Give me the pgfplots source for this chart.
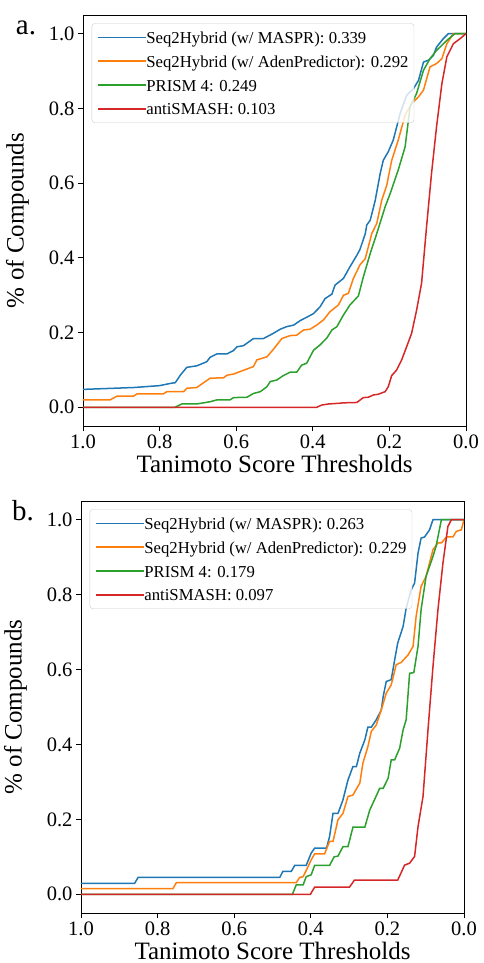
\documentclass[border=0pt]{standalone}
\usepackage{fontspec}
\setmainfont{Liberation Serif}
\usepackage{pgfplots}
\pgfplotsset{compat=1.18}
\definecolor{cblue}{HTML}{1F77B4}
\definecolor{corange}{HTML}{FF7F0E}
\definecolor{cgreen}{HTML}{2CA02C}
\definecolor{cred}{HTML}{D62728}
\pgfplotsset{
  myax/.style={
    scale only axis, width=383pt,
    xmin=0, xmax=1, x dir=reverse,
    ymin=-0.05, ymax=1.05,
    xtick={0,0.2,0.4,0.6,0.8,1}, ytick={0,0.2,0.4,0.6,0.8,1},
    tick pos=left, tick align=outside, major tick length=5pt,
    axis line style={line width=0.9pt},
    every tick/.style={black, line width=0.9pt},
    tick label style={font=\fontsize{20.5}{24}\selectfont},
    label style={font=\fontsize{25}{30}\selectfont},
    xlabel={Tanimoto Score Thresholds},
    ylabel={\% of Compounds},
    xlabel style={at={(axis description cs:0.5,-0.113)}, anchor=base, text depth=0pt},
    ylabel style={at={(axis description cs:-0.155,0.5)}, anchor=base},
    every axis plot/.append style={line width=1.5pt},
    legend cell align=left,
    legend image code/.code={\path (0pt,0pt) -- (47.5pt,0pt); \draw[##1, line width=1.6pt] (0pt,0pt) -- (35pt,0pt);},
    legend style={at={(rel axis cs:0,1)}, anchor=north west, xshift=8.7pt, yshift=-8.3pt,
      font=\fontsize{16.7}{20}\selectfont,
      draw=black!20, rounded corners=3pt, fill=white, fill opacity=0.8, text opacity=1, draw opacity=1,
      inner xsep=5.5pt, inner ysep=2pt, row sep=0pt,
      nodes={inner xsep=0pt, inner ysep=2.9pt, text height=15pt, text depth=3pt}},
    /pgf/number format/.cd, fixed, fixed zerofill, precision=1, assume math mode=true,
  }
}
\begin{document}
\begin{tikzpicture}
\path[use as bounding box] (0pt,0pt) rectangle (483pt,-963pt);
\node[anchor=base west, inner sep=0pt, font=\fontsize{29}{34}\selectfont] at (15.7pt,-35pt) {a.};
\node[anchor=base west, inner sep=0pt, font=\fontsize{29}{34}\selectfont] at (12pt,-520.7pt) {b.};
\begin{axis}[myax, at={(83pt,-426pt)}, anchor=south west, height=411pt]
\addplot[cblue] coordinates {(1,0.048)(0.92,0.051)(0.868,0.053)(0.80,0.058)(0.772,0.064)(0.759,0.066)(0.746,0.086)(0.729,0.107)(0.703,0.111)(0.677,0.122)(0.668,0.134)(0.65,0.143)(0.624,0.143)(0.607,0.152)(0.598,0.162)(0.581,0.165)(0.555,0.184)(0.529,0.184)(0.503,0.198)(0.485,0.209)(0.468,0.216)(0.45,0.22)(0.433,0.232)(0.416,0.241)(0.398,0.251)(0.381,0.269)(0.368,0.291)(0.35,0.303)(0.342,0.327)(0.32,0.345)(0.303,0.376)(0.285,0.407)(0.277,0.422)(0.263,0.465)(0.259,0.488)(0.25,0.501)(0.237,0.554)(0.224,0.626)(0.216,0.661)(0.203,0.684)(0.19,0.715)(0.172,0.786)(0.155,0.835)(0.137,0.853)(0.124,0.875)(0.111,0.924)(0.098,0.929)(0.085,0.942)(0.077,0.964)(0.059,0.987)(0.046,1.0)(0,1.0)};
\addlegendentry{Seq2Hybrid (w/ MASPR): 0.339}
\addplot[corange] coordinates {(1,0.02)(0.929,0.02)(0.911,0.03)(0.868,0.03)(0.859,0.036)(0.79,0.036)(0.781,0.042)(0.737,0.042)(0.729,0.051)(0.703,0.053)(0.685,0.066)(0.668,0.078)(0.633,0.079)(0.624,0.086)(0.607,0.089)(0.555,0.109)(0.546,0.127)(0.52,0.135)(0.503,0.155)(0.481,0.184)(0.459,0.192)(0.442,0.193)(0.424,0.207)(0.407,0.209)(0.39,0.22)(0.372,0.234)(0.355,0.256)(0.333,0.274)(0.32,0.3)(0.307,0.305)(0.294,0.345)(0.277,0.381)(0.263,0.398)(0.246,0.465)(0.233,0.492)(0.22,0.554)(0.207,0.594)(0.194,0.661)(0.177,0.715)(0.159,0.782)(0.142,0.813)(0.124,0.831)(0.111,0.849)(0.094,0.911)(0.077,0.92)(0.063,0.933)(0.05,0.973)(0.033,1.0)(0,1.0)};
\addlegendentry{Seq2Hybrid (w/ AdenPredictor): 0.292}
\addplot[cgreen] coordinates {(1,0)(0.76,0)(0.742,0.009)(0.703,0.009)(0.685,0.012)(0.668,0.015)(0.65,0.02)(0.616,0.02)(0.607,0.026)(0.572,0.027)(0.555,0.037)(0.537,0.042)(0.52,0.055)(0.511,0.069)(0.494,0.073)(0.477,0.085)(0.459,0.094)(0.442,0.094)(0.429,0.113)(0.416,0.118)(0.398,0.153)(0.381,0.167)(0.363,0.186)(0.35,0.207)(0.337,0.216)(0.32,0.247)(0.303,0.274)(0.281,0.298)(0.268,0.349)(0.25,0.412)(0.233,0.465)(0.211,0.537)(0.198,0.572)(0.177,0.635)(0.159,0.697)(0.146,0.804)(0.129,0.84)(0.111,0.902)(0.094,0.933)(0.077,0.955)(0.05,0.982)(0.029,1.0)(0,1.0)};
\addlegendentry{PRISM 4: 0.249}
\addplot[cred] coordinates {(1,0)(0.39,0)(0.377,0.006)(0.359,0.009)(0.329,0.011)(0.32,0.012)(0.285,0.013)(0.268,0.026)(0.255,0.027)(0.242,0.033)(0.229,0.035)(0.211,0.042)(0.203,0.055)(0.194,0.085)(0.181,0.1)(0.168,0.127)(0.155,0.162)(0.142,0.198)(0.129,0.26)(0.116,0.332)(0.103,0.483)(0.09,0.626)(0.077,0.75)(0.063,0.866)(0.05,0.938)(0.033,0.973)(0.015,0.987)(0,1.0)};
\addlegendentry{antiSMASH: 0.103}
\end{axis}
\begin{axis}[myax, at={(81pt,-913pt)}, anchor=south west, height=412pt]
\addplot[cblue] coordinates {(1,0.029)(0.86,0.029)(0.851,0.045)(0.481,0.045)(0.473,0.061)(0.451,0.061)(0.442,0.077)(0.412,0.077)(0.399,0.11)(0.39,0.123)(0.359,0.123)(0.351,0.154)(0.342,0.216)(0.329,0.216)(0.316,0.252)(0.303,0.305)(0.29,0.341)(0.281,0.341)(0.272,0.377)(0.259,0.412)(0.251,0.446)(0.242,0.446)(0.229,0.466)(0.216,0.492)(0.211,0.528)(0.203,0.568)(0.19,0.573)(0.181,0.626)(0.173,0.671)(0.159,0.715)(0.151,0.764)(0.138,0.813)(0.129,0.831)(0.12,0.911)(0.112,0.951)(0.103,0.954)(0.09,0.973)(0.081,1.0)(0,1.0)};
\addlegendentry{Seq2Hybrid (w/ MASPR): 0.263}
\addplot[corange] coordinates {(1,0.015)(0.76,0.015)(0.751,0.031)(0.438,0.031)(0.429,0.045)(0.42,0.047)(0.407,0.074)(0.399,0.092)(0.39,0.108)(0.364,0.108)(0.351,0.141)(0.342,0.141)(0.329,0.199)(0.316,0.216)(0.303,0.261)(0.29,0.265)(0.272,0.297)(0.264,0.35)(0.251,0.394)(0.242,0.435)(0.229,0.452)(0.216,0.492)(0.203,0.537)(0.19,0.559)(0.177,0.613)(0.164,0.619)(0.146,0.639)(0.133,0.662)(0.125,0.742)(0.112,0.822)(0.099,0.849)(0.081,0.92)(0.068,0.938)(0.059,0.938)(0.046,0.954)(0.029,0.954)(0.02,0.969)(0.007,0.973)(0,1.0)};
\addlegendentry{Seq2Hybrid (w/ AdenPredictor): 0.229}
\addplot[cgreen] coordinates {(1,0)(0.448,0)(0.438,0.025)(0.42,0.025)(0.412,0.047)(0.399,0.052)(0.39,0.077)(0.351,0.077)(0.339,0.1)(0.329,0.102)(0.316,0.127)(0.303,0.127)(0.29,0.179)(0.259,0.179)(0.246,0.225)(0.22,0.283)(0.211,0.283)(0.198,0.31)(0.19,0.359)(0.181,0.359)(0.168,0.39)(0.159,0.439)(0.151,0.466)(0.142,0.59)(0.131,0.592)(0.12,0.662)(0.112,0.76)(0.099,0.849)(0.081,0.902)(0.073,0.929)(0.059,1.0)(0,1.0)};
\addlegendentry{PRISM 4: 0.179}
\addplot[cred] coordinates {(1,0)(0.401,0)(0.39,0.019)(0.299,0.019)(0.286,0.038)(0.173,0.038)(0.155,0.078)(0.142,0.083)(0.129,0.101)(0.12,0.181)(0.107,0.261)(0.094,0.439)(0.081,0.608)(0.068,0.76)(0.055,0.884)(0.042,0.982)(0.033,1.0)(0,1.0)};
\addlegendentry{antiSMASH: 0.097}
\end{axis}
\end{tikzpicture}
\end{document}
